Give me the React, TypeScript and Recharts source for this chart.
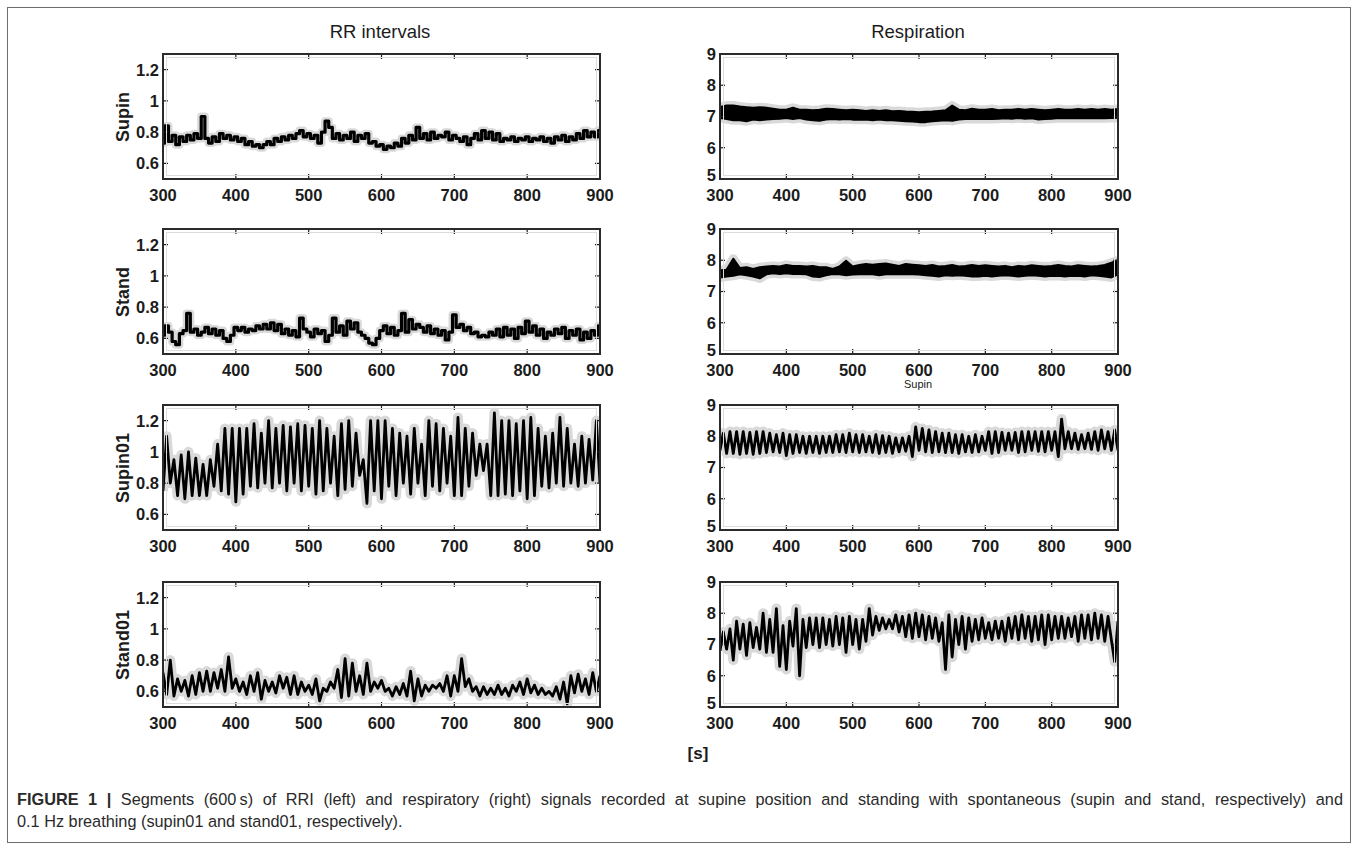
import React from 'react'
import { ComposedChart, Line, Area, XAxis, YAxis } from 'recharts'

// sampling grids of the traced signals (seconds)
const T_START = 300
const LINE_STEP = 5
const BAND_STEP = 10

const xTicks = [300, 400, 500, 600, 700, 800, 900]
const rrTicks = [0.6, 0.8, 1, 1.2]
const respTicks = [5, 6, 7, 8, 9]
const rowLabels = ['Supin', 'Stand', 'Supin01', 'Stand01']
const columnTitles = ['RR intervals', 'Respiration']

// RR intervals [s], one value every 5 s from 300 to 900
const rrSupin = [
  0.73, 0.84, 0.74, 0.78, 0.72, 0.77, 0.74, 0.78, 0.75, 0.79,
  0.76, 0.90, 0.76, 0.73, 0.77, 0.74, 0.79, 0.76, 0.78, 0.75,
  0.77, 0.74, 0.76, 0.72, 0.74, 0.71, 0.72, 0.70, 0.72, 0.74,
  0.72, 0.76, 0.74, 0.77, 0.75, 0.78, 0.76, 0.79, 0.81, 0.77,
  0.79, 0.76, 0.78, 0.73, 0.80, 0.87, 0.83, 0.76, 0.79, 0.75,
  0.78, 0.76, 0.80, 0.74, 0.78, 0.76, 0.79, 0.73, 0.74, 0.71,
  0.72, 0.69, 0.71, 0.70, 0.73, 0.71, 0.76, 0.73, 0.78, 0.75,
  0.83, 0.76, 0.79, 0.75, 0.80, 0.76, 0.78, 0.77, 0.80, 0.75,
  0.78, 0.76, 0.74, 0.77, 0.72, 0.76, 0.79, 0.75, 0.81, 0.76,
  0.80, 0.75, 0.79, 0.74, 0.76, 0.75, 0.77, 0.74, 0.76, 0.75,
  0.77, 0.74, 0.76, 0.75, 0.77, 0.74, 0.76, 0.73, 0.77, 0.75,
  0.78, 0.74, 0.77, 0.75, 0.79, 0.76, 0.81, 0.77, 0.80, 0.77,
  0.81
]

const rrStand = [
  0.62, 0.68, 0.64, 0.58, 0.56, 0.63, 0.65, 0.76, 0.64, 0.66,
  0.62, 0.64, 0.67, 0.63, 0.66, 0.62, 0.65, 0.60, 0.58, 0.62,
  0.67, 0.65, 0.67, 0.64, 0.66, 0.65, 0.68, 0.66, 0.69, 0.66,
  0.70, 0.65, 0.69, 0.63, 0.66, 0.62, 0.65, 0.61, 0.73, 0.66,
  0.64, 0.61, 0.66, 0.63, 0.65, 0.58, 0.62, 0.73, 0.64, 0.68,
  0.62, 0.71, 0.66, 0.70, 0.64, 0.62, 0.60, 0.57, 0.56, 0.60,
  0.65, 0.68, 0.63, 0.67, 0.62, 0.65, 0.76, 0.64, 0.72, 0.66,
  0.69, 0.67, 0.64, 0.68, 0.63, 0.66, 0.62, 0.65, 0.59, 0.64,
  0.75, 0.67, 0.69, 0.65, 0.67, 0.63, 0.64, 0.61, 0.62, 0.61,
  0.64, 0.62, 0.66, 0.61, 0.67, 0.62, 0.66, 0.60, 0.67, 0.63,
  0.71, 0.64, 0.68, 0.62, 0.66, 0.60, 0.64, 0.62, 0.66, 0.63,
  0.67, 0.60, 0.65, 0.62, 0.66, 0.59, 0.64, 0.60, 0.65, 0.62,
  0.68
]

const rrSupin01 = [
  0.75, 1.10, 0.80, 0.95, 0.72, 0.98, 0.70, 1.00, 0.72, 0.96,
  0.72, 0.92, 0.72, 0.95, 0.78, 1.05, 0.75, 1.15, 0.73, 1.15,
  0.68, 1.15, 0.73, 1.15, 0.78, 1.18, 0.77, 1.12, 0.80, 1.20,
  0.77, 1.15, 0.80, 1.17, 0.75, 1.16, 0.80, 1.18, 0.75, 1.17,
  0.78, 1.15, 0.73, 1.20, 0.75, 1.15, 0.80, 1.10, 0.72, 1.18,
  0.76, 1.20, 0.78, 1.12, 0.85, 0.95, 0.67, 1.20, 0.75, 1.20,
  0.70, 1.20, 0.78, 1.15, 0.72, 1.12, 0.80, 1.10, 0.73, 1.15,
  0.80, 1.05, 0.72, 1.20, 0.78, 1.18, 0.75, 1.15, 0.80, 1.10,
  0.72, 1.22, 0.72, 1.15, 0.78, 1.12, 0.85, 1.05, 0.88, 1.05,
  0.72, 1.25, 0.72, 1.20, 0.73, 1.20, 0.72, 1.18, 0.75, 1.20,
  0.70, 1.22, 0.72, 1.15, 0.78, 1.10, 0.77, 1.12, 0.80, 1.22,
  0.78, 1.15, 0.80, 1.05, 0.78, 1.10, 0.80, 1.08, 0.82, 1.20,
  0.80
]

const rrStand01 = [
  0.72, 0.58, 0.80, 0.57, 0.68, 0.60, 0.67, 0.57, 0.70, 0.58,
  0.72, 0.60, 0.73, 0.60, 0.72, 0.62, 0.74, 0.60, 0.82, 0.62,
  0.68, 0.60, 0.66, 0.58, 0.70, 0.60, 0.72, 0.55, 0.67, 0.60,
  0.66, 0.59, 0.70, 0.62, 0.69, 0.58, 0.70, 0.58, 0.66, 0.60,
  0.64, 0.58, 0.68, 0.54, 0.62, 0.60, 0.66, 0.62, 0.74, 0.56,
  0.81, 0.57, 0.78, 0.60, 0.70, 0.58, 0.78, 0.60, 0.66, 0.62,
  0.67, 0.60, 0.62, 0.57, 0.63, 0.58, 0.65, 0.57, 0.73, 0.54,
  0.68, 0.57, 0.64, 0.60, 0.64, 0.62, 0.65, 0.60, 0.70, 0.57,
  0.70, 0.60, 0.81, 0.63, 0.68, 0.60, 0.63, 0.57, 0.63, 0.58,
  0.62, 0.58, 0.64, 0.58, 0.62, 0.57, 0.64, 0.60, 0.66, 0.58,
  0.68, 0.59, 0.64, 0.58, 0.62, 0.58, 0.60, 0.57, 0.63, 0.55,
  0.66, 0.52, 0.70, 0.59, 0.71, 0.60, 0.68, 0.58, 0.72, 0.60,
  0.70
]

// respiration, spontaneous breathing: envelope (low / high) every 10 s
const respSupinLo = [
  6.95, 6.92, 6.88, 6.88, 6.85, 6.90, 6.88, 6.90, 6.92, 6.93,
  6.95, 6.92, 6.95, 6.90, 6.88, 6.86, 6.90, 6.92, 6.90, 6.92,
  6.90, 6.90, 6.90, 6.88, 6.90, 6.88, 6.88, 6.86, 6.85, 6.84,
  6.82, 6.82, 6.85, 6.86, 6.88, 6.86, 6.90, 6.92, 6.92, 6.93,
  6.92, 6.92, 6.93, 6.94, 6.93, 6.95, 6.93, 6.94, 6.90, 6.92,
  6.93, 6.95, 6.94, 6.95, 6.94, 6.95, 6.94, 6.95, 6.94, 6.95,
  6.96
]
const respSupinHi = [
  7.30, 7.35, 7.35, 7.32, 7.30, 7.28, 7.30, 7.28, 7.25, 7.22,
  7.22, 7.28, 7.22, 7.22, 7.20, 7.22, 7.25, 7.24, 7.22, 7.20,
  7.22, 7.20, 7.18, 7.20, 7.18, 7.20, 7.17, 7.18, 7.16, 7.15,
  7.14, 7.15, 7.16, 7.18, 7.20, 7.35, 7.22, 7.20, 7.25, 7.22,
  7.22, 7.24, 7.20, 7.22, 7.22, 7.24, 7.22, 7.24, 7.22, 7.20,
  7.22, 7.24, 7.22, 7.22, 7.24, 7.22, 7.24, 7.22, 7.24, 7.22,
  7.24
]

const respStandLo = [
  7.45, 7.48, 7.50, 7.55, 7.52, 7.48, 7.42, 7.55, 7.58, 7.56,
  7.58, 7.56, 7.56, 7.55, 7.48, 7.46, 7.52, 7.56, 7.55, 7.52,
  7.54, 7.55, 7.56, 7.55, 7.52, 7.55, 7.56, 7.55, 7.56, 7.55,
  7.54, 7.52, 7.50, 7.48, 7.52, 7.50, 7.52, 7.50, 7.48, 7.48,
  7.50, 7.48, 7.50, 7.52, 7.50, 7.48, 7.50, 7.52, 7.50, 7.48,
  7.50, 7.50, 7.48, 7.50, 7.50, 7.48, 7.52, 7.50, 7.48, 7.45,
  7.55
]
const respStandHi = [
  7.68, 7.70, 8.05, 7.75, 7.78, 7.72, 7.78, 7.80, 7.82, 7.80,
  7.85, 7.82, 7.82, 7.80, 7.82, 7.78, 7.78, 7.72, 7.80, 7.98,
  7.80, 7.85, 7.88, 7.86, 7.88, 7.90, 7.86, 7.82, 7.88, 7.86,
  7.84, 7.82, 7.85, 7.80, 7.82, 7.85, 7.80, 7.82, 7.85, 7.82,
  7.84, 7.82, 7.80, 7.82, 7.78, 7.82, 7.80, 7.84, 7.82, 7.80,
  7.82, 7.85, 7.82, 7.80, 7.84, 7.82, 7.80, 7.82, 7.85, 7.92,
  8.00
]

// respiration, 0.1 Hz breathing, every 5 s
const respSupin01 = [
  7.55, 8.10, 7.45, 8.15, 7.45, 8.15, 7.42, 8.15, 7.45, 8.12,
  7.42, 8.15, 7.45, 8.15, 7.48, 8.10, 7.50, 8.05, 7.48, 8.10,
  7.38, 8.05, 7.45, 8.05, 7.48, 8.00, 7.45, 8.00, 7.48, 8.00,
  7.45, 8.00, 7.48, 8.00, 7.48, 8.05, 7.50, 8.05, 7.48, 8.10,
  7.50, 8.05, 7.48, 8.05, 7.50, 8.00, 7.48, 8.05, 7.45, 8.02,
  7.48, 8.00, 7.45, 7.95, 7.50, 7.95, 7.52, 8.00, 7.35, 8.30,
  7.55, 8.25, 7.50, 8.20, 7.48, 8.15, 7.50, 8.10, 7.48, 8.10,
  7.48, 8.05, 7.45, 8.05, 7.50, 8.00, 7.48, 8.05, 7.50, 8.00,
  7.55, 8.15, 7.45, 8.15, 7.48, 8.12, 7.55, 8.10, 7.55, 8.12,
  7.48, 8.15, 7.50, 8.15, 7.55, 8.15, 7.52, 8.15, 7.50, 8.15,
  7.55, 8.15, 7.35, 8.55, 7.60, 8.15, 7.60, 8.10, 7.58, 8.05,
  7.60, 8.10, 7.58, 8.15, 7.55, 8.20, 7.60, 8.15, 7.55, 8.20,
  7.55
]

const respStand01 = [
  6.80, 7.40, 6.85, 7.50, 6.50, 7.75, 6.85, 7.65, 6.65, 7.70,
  6.90, 7.55, 6.85, 8.00, 6.75, 7.80, 6.75, 8.15, 6.30, 7.60,
  6.20, 7.75, 6.95, 8.15, 6.00, 7.80, 6.90, 7.85, 7.00, 7.85,
  6.90, 7.85, 7.00, 7.80, 6.95, 7.90, 7.00, 7.85, 6.75, 7.90,
  7.00, 7.80, 6.85, 7.80, 7.10, 8.15, 7.30, 7.90, 7.45, 7.85,
  7.50, 7.80, 7.50, 7.95, 7.40, 7.90, 7.25, 7.95, 7.20, 8.00,
  7.25, 7.95, 7.15, 7.90, 7.20, 7.85, 7.10, 7.70, 6.20, 7.95,
  6.60, 7.80, 7.00, 7.90, 6.85, 7.85, 7.10, 7.80, 7.15, 7.85,
  7.20, 7.70, 7.15, 7.75, 7.20, 7.75, 7.10, 7.85, 7.20, 7.90,
  7.15, 7.95, 7.20, 7.90, 7.10, 7.90, 7.15, 7.95, 7.00, 7.95,
  7.15, 7.90, 7.20, 7.90, 7.20, 7.85, 7.25, 7.90, 7.10, 7.95,
  7.20, 7.95, 7.15, 8.00, 7.20, 7.95, 7.10, 7.90, 7.15, 6.45,
  7.75
]

const FONT = '"Liberation Sans", Arial, Helvetica, sans-serif'
const INK = '#1c1c1c'
const HALO = '#d9d9d9'

const PLOT_H = 125
const Y_AXIS_W = 50
const TOP_PAD = 12
const RIGHT_PAD = 24
const X_AXIS_H = 30
const TICK_LEN = 5

const colX = [163, 720]
const colW = [437, 398]
const rowY = [54, 229, 405, 582]

const lineRows = (values: number[]) =>
  values.map((v, i) => ({ t: T_START + i * LINE_STEP, v }))

const bandRows = (lo: number[], hi: number[]) =>
  lo.map((l, i) => ({ t: T_START + i * BAND_STEP, lo: l, hi: hi[i] }))

type PanelProps = {
  col: number
  row: number
  data: any[]
  band?: boolean
  stepped?: boolean
}

function Panel({ col, row, data, band, stepped }: PanelProps) {
  const plotW = colW[col]
  const width = Y_AXIS_W + plotW + RIGHT_PAD
  const height = TOP_PAD + PLOT_H + X_AXIS_H
  const domain = col === 0 ? [0.5, 1.3] : [5, 9]
  const ticks = col === 0 ? rrTicks : respTicks
  const plotL = Y_AXIS_W
  const plotR = Y_AXIS_W + plotW
  const plotT = TOP_PAD
  const plotB = TOP_PAD + PLOT_H
  const curve = stepped ? 'step' : 'linear'

  const XTick = (p: any) => (
    <g>
      <line x1={p.x} x2={p.x} y1={plotT} y2={plotT + TICK_LEN} stroke={INK} strokeWidth={1.2} />
      <line x1={p.x} x2={p.x} y1={plotB} y2={plotB - TICK_LEN} stroke={INK} strokeWidth={1.2} />
      <text x={p.x} y={p.y} dy="0.78em" textAnchor="middle" fontFamily={FONT} fontWeight="bold" fontSize={16.5} fill={INK}>
        {p.payload.value}
      </text>
    </g>
  )

  // the lowest respiration label sits a little raised, just above the 300 label
  const YTick = (p: any) => {
    const raised = col === 1 && p.payload.value === domain[0]
    return (
      <g>
        <line x1={plotL} x2={plotL + TICK_LEN} y1={p.y} y2={p.y} stroke={INK} strokeWidth={1.2} />
        <line x1={plotR} x2={plotR - TICK_LEN} y1={p.y} y2={p.y} stroke={INK} strokeWidth={1.2} />
        <text x={p.x} y={p.y - (raised ? 4 : 0)} dy="0.36em" textAnchor="end" fontFamily={FONT} fontWeight="bold" fontSize={16.5} fill={INK}>
          {p.payload.value}
        </text>
      </g>
    )
  }

  const range = (d: any) => [d.lo, d.hi]

  return (
    <div style={{ position: 'absolute', left: colX[col] - Y_AXIS_W, top: rowY[row] - TOP_PAD }}>
      <ComposedChart width={width} height={height} data={data} margin={{ top: TOP_PAD, right: RIGHT_PAD, bottom: 0, left: 0 }}>
        <XAxis
          dataKey="t"
          type="number"
          domain={[300, 900]}
          ticks={xTicks}
          allowDataOverflow
          axisLine={false}
          tickLine={false}
          tickSize={0}
          tickMargin={9}
          height={X_AXIS_H}
          interval={0}
          tick={XTick}
        />
        <YAxis
          type="number"
          domain={domain}
          ticks={ticks}
          allowDataOverflow
          axisLine={false}
          tickLine={false}
          tickSize={0}
          tickMargin={4}
          width={Y_AXIS_W}
          interval={0}
          tick={YTick}
        />
        {band ? (
          <>
            <Area dataKey={range} type="linear" stroke={HALO} strokeWidth={9} strokeLinejoin="round" fill={HALO} fillOpacity={1} isAnimationActive={false} />
            <Area dataKey={range} type="linear" stroke="#000" strokeWidth={2} strokeLinejoin="round" fill="#000" fillOpacity={1} isAnimationActive={false} />
          </>
        ) : (
          <>
            <Line dataKey="v" type={curve} stroke={HALO} strokeWidth={stepped ? 8 : 10} strokeLinejoin="round" dot={false} isAnimationActive={false} />
            <Line dataKey="v" type={curve} stroke="#000" strokeWidth={stepped ? 3.2 : 2.8} strokeLinejoin="round" dot={false} isAnimationActive={false} />
          </>
        )}
      </ComposedChart>
      {/* MATLAB style axes box */}
      <div
        style={{
          position: 'absolute',
          left: Y_AXIS_W - 1,
          top: TOP_PAD - 1,
          width: plotW + 2,
          height: PLOT_H + 2,
          border: '2px solid #2b2b2b',
          boxSizing: 'border-box',
          pointerEvents: 'none'
        }}
      >
        <div style={{ position: 'absolute', inset: 2, border: '1px solid #dcdcdc' }} />
      </div>
    </div>
  )
}

const textStyle = (extra: React.CSSProperties): React.CSSProperties => ({
  position: 'absolute',
  fontFamily: FONT,
  color: INK,
  whiteSpace: 'nowrap',
  lineHeight: 1,
  ...extra
})

export default function App() {
  const panels = [
    { col: 0, row: 0, data: lineRows(rrSupin), stepped: true },
    { col: 0, row: 1, data: lineRows(rrStand), stepped: true },
    { col: 0, row: 2, data: lineRows(rrSupin01) },
    { col: 0, row: 3, data: lineRows(rrStand01) },
    { col: 1, row: 0, data: bandRows(respSupinLo, respSupinHi), band: true },
    { col: 1, row: 1, data: bandRows(respStandLo, respStandHi), band: true },
    { col: 1, row: 2, data: lineRows(respSupin01) },
    { col: 1, row: 3, data: lineRows(respStand01) }
  ]

  return (
    <div style={{ position: 'absolute', left: 0, top: 0, width: 1358, height: 847, background: '#fff', overflow: 'hidden' }}>
      <div style={{ position: 'absolute', left: 7, top: 7, width: 1344, height: 836, border: '1px solid #6e6e6e', boxSizing: 'border-box' }} />

      {columnTitles.map((t, i) => (
        <div key={t} style={textStyle({ left: [380, 918][i], top: 23, fontSize: 18.5, transform: 'translateX(-50%)' })}>
          {t}
        </div>
      ))}

      {rowLabels.map((l, i) => (
        <div
          key={l}
          style={textStyle({
            left: 123,
            top: rowY[i] + PLOT_H / 2,
            fontSize: 18,
            fontWeight: 'bold',
            transform: 'translate(-50%, -50%) rotate(-90deg)'
          })}
        >
          {l}
        </div>
      ))}

      {panels.map(p => (
        <Panel key={`${p.col}-${p.row}`} col={p.col} row={p.row} data={p.data} band={p.band} stepped={p.stepped} />
      ))}

      <div style={textStyle({ left: 918, top: 379, fontSize: 11, transform: 'translateX(-50%)' })}>Supin</div>
      <div style={textStyle({ left: 698, top: 745, fontSize: 17, fontWeight: 'bold', transform: 'translateX(-50%)' })}>[s]</div>

      <div style={textStyle({ left: 17, top: 788, fontSize: 16.3, lineHeight: '22px', color: '#2a2a2a' })}>
        <div style={{ width: 1326, whiteSpace: 'normal', textAlign: 'justify', textAlignLast: 'justify' }}>
          <b>FIGURE 1 |</b> Segments (600{'\u2009'}s) of RRI (left) and respiratory (right) signals recorded at supine position and
          standing with spontaneous (supin and stand, respectively) and
        </div>
        <div>0.1 Hz breathing (supin01 and stand01, respectively).</div>
      </div>
    </div>
  )
}
